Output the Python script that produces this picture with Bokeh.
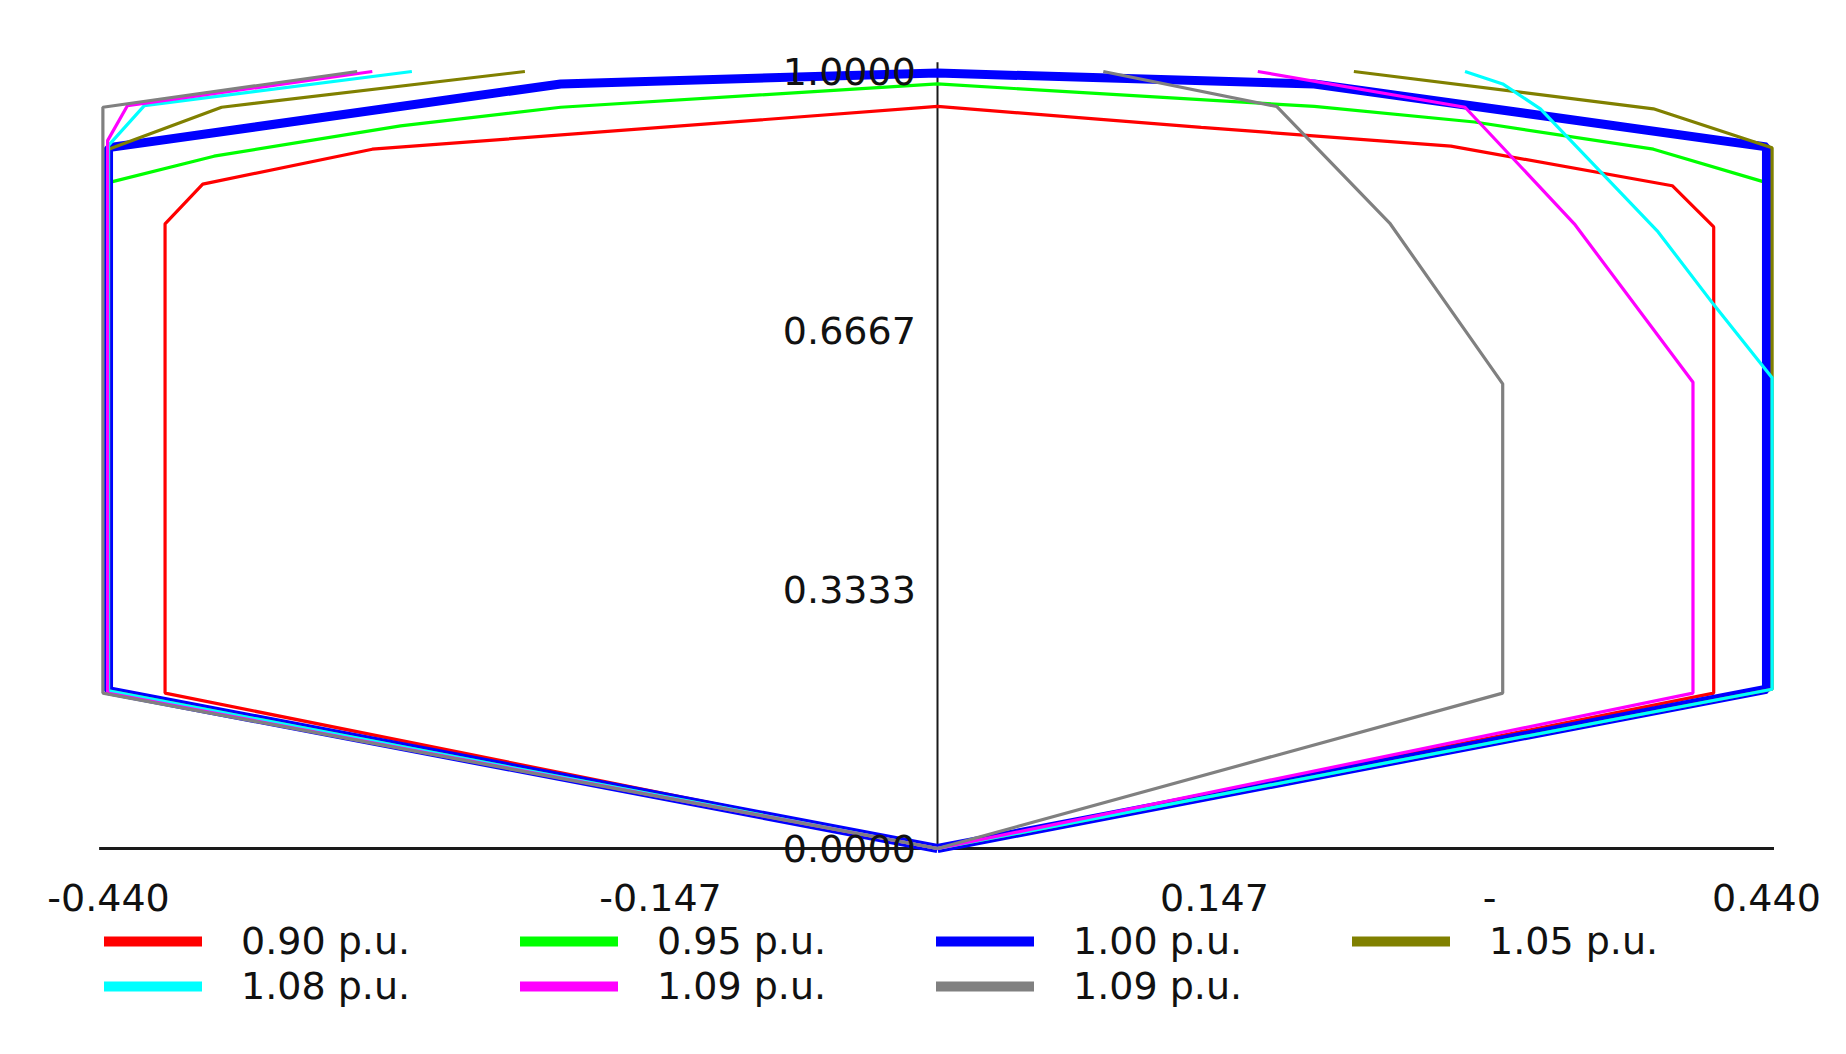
import math
from bokeh.plotting import figure
from bokeh.models import Legend, LegendItem, Range1d
from bokeh.core.properties import value
from bokeh.embed import file_html
from bokeh.resources import INLINE

NAN = float("nan")

# ---- data: Q (x, p.u.) / P (y, p.u.) capability curves; NaN = curve leaves the top of the chart
series_labels = ["0.90 p.u.", "0.95 p.u.", "1.00 p.u.", "1.05 p.u.", "1.08 p.u.", "1.09 p.u.", "1.09 p.u."]

q_090 = [0, -0.41, -0.41, -0.39, -0.30, 0.0, 0.14, 0.2725, 0.39, 0.412, 0.412, 0]
p_090 = [0, 0.200, 0.804, 0.855, 0.900, 0.955, 0.928, 0.904, 0.853, 0.800, 0.200, 0]

q_095 = [0, -0.44, -0.44, -0.384, -0.285, -0.20, 0.0, 0.20, 0.285, 0.38, 0.44, 0.44, 0]
p_095 = [0, 0.203, 0.857, 0.891, 0.930, 0.954, 0.984, 0.955, 0.935, 0.900, 0.857, 0.203, 0]

q_100 = [0, -0.44, -0.44, -0.20, 0.0, 0.20, 0.44, 0.44, 0]
p_100 = [0, 0.203, 0.902, 0.984, 0.998, 0.984, 0.903, 0.205, 0]

q_105 = [0, -0.44, -0.44, -0.38, -0.219, NAN, 0.221, 0.38, 0.443, 0.443, 0]
p_105 = [0, 0.203, 0.900, 0.954, 1.000, NAN, 1.000, 0.952, 0.902, 0.205, 0]

q_108 = [0, -0.44, -0.44, -0.421, -0.279, NAN, 0.28, 0.30, 0.32, 0.382, 0.412, 0.443, 0.443, 0]
p_108 = [0, 0.203, 0.905, 0.956, 1.000, NAN, 1.000, 0.984, 0.952, 0.795, 0.700, 0.606, 0.205, 0]

q_109a = [0, -0.4405, -0.4405, -0.43, -0.30, NAN, 0.17, 0.28, 0.338, 0.401, 0.401, 0]
p_109a = [0, 0.200, 0.911, 0.956, 1.000, NAN, 1.000, 0.954, 0.804, 0.600, 0.200, 0]

q_109b = [0, -0.443, -0.443, -0.308, NAN, 0.088, 0.18, 0.24, 0.30, 0.30, 0]
p_109b = [0, 0.200, 0.954, 1.000, NAN, 1.000, 0.955, 0.805, 0.598, 0.200, 0]

# axes
x_axis_extent = [-0.445, 0.444]
y_axis_extent = [0.0, 1.012]
x_tick_values = [-0.440, -0.147, 0.147, 0.293, 0.440]
x_tick_labels = ["-0.440", "-0.147", "0.147", "-", "0.440"]
y_tick_values = [1.0, 0.6667, 0.3333, 0.0]
y_tick_labels = ["1.0000", "0.6667", "0.3333", "0.0000"]

# ---- layout (pixels)
W, H = 1830, 1038
X0_PX, X_SCALE = 937.0, 1884.0   # screen x of Q=0, px per unit
Y0_PX, Y_SCALE = 848.0, 777.0    # screen y (from top) of P=0, px per unit

x_range = Range1d(-X0_PX / X_SCALE, (W - X0_PX) / X_SCALE)
y_range = Range1d((Y0_PX - H) / Y_SCALE, Y0_PX / Y_SCALE)

p = figure(width=W, height=H, x_range=x_range, y_range=y_range,
           output_backend="svg", toolbar_location=None,
           x_axis_location=None, y_axis_location=None,
           min_border=0, outline_line_color=None,
           background_fill_color="white", border_fill_color="white")
p.grid.visible = False

FONT = value("DejaVu Sans")
FSIZE = value("38px")

# axis lines
p.line(x=x_axis_extent, y=[0, 0], line_color="#1a1a1a", line_width=3)
p.line(x=[0, 0], y=y_axis_extent, line_color="#1a1a1a", line_width=2)

colors = ["#ff0000", "#00ff00", "#0000ff", "#808000", "#00ffff", "#ff00ff", "#808080"]
widths = [3.2, 3.2, 9, 3.2, 3.2, 3.2, 3.2]
qs = [q_090, q_095, q_100, q_105, q_108, q_109a, q_109b]
ps = [p_090, p_095, p_100, p_105, p_108, p_109a, p_109b]

for q, pp, c, w in zip(qs, ps, colors, widths):
    p.line(x=q, y=pp, line_color=c, line_width=w)

# tick labels
p.text(x=[-0.0115] * len(y_tick_values), y=y_tick_values, text=y_tick_labels,
       text_align="right", text_baseline="middle", text_font=FONT,
       text_font_size=FSIZE, text_color="#111111")
p.text(x=x_tick_values, y=[-0.063] * len(x_tick_values), text=x_tick_labels,
       text_align="center", text_baseline="middle", text_font=FONT,
       text_font_size=FSIZE, text_color="#111111")

# legend (samples drawn thick like the reference)
items = []
for lab, c in zip(series_labels, colors):
    r = p.line(x=[NAN, NAN], y=[NAN, NAN], line_color=c, line_width=10, line_cap="round")
    items.append(LegendItem(label=lab, renderers=[r]))

legend = Legend(items=items, location=(104, 30), orientation="horizontal", ncols=4,
                glyph_width=98, glyph_height=34, label_standoff=39,
                label_width=278, label_height=34, spacing=1, padding=0, margin=0,
                border_line_color=None, background_fill_alpha=0,
                label_text_font="DejaVu Sans", label_text_font_size="38px",
                label_text_color="#111111")
p.add_layout(legend)

open("out.html", "w").write(file_html(p, INLINE))
